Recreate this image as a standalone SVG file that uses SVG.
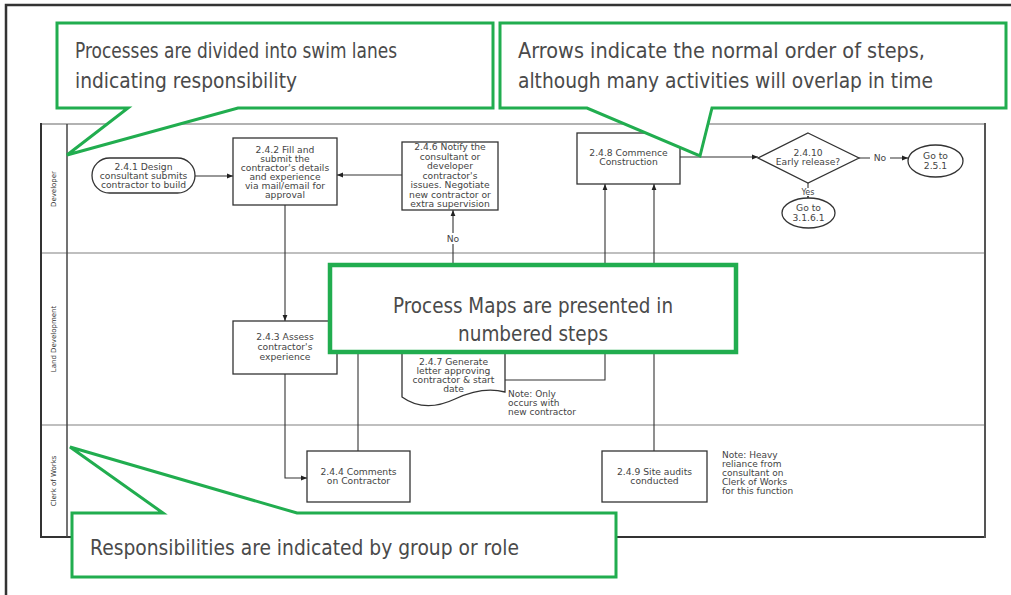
<svg xmlns="http://www.w3.org/2000/svg" width="1011" height="595" viewBox="0 0 1011 595">
  <defs>
    <marker id="arrow" viewBox="0 0 10 10" refX="10" refY="5" markerWidth="6" markerHeight="6" markerUnits="userSpaceOnUse" orient="auto">
      <path d="M0,1 L10,5 L0,9 Z" fill="#222"/>
    </marker>
    <style>
      .box { fill: #fff; stroke: #333; stroke-width: 1.3; }
      .lbl { font-family: "DejaVu Sans", "Liberation Sans", sans-serif; font-size: 9.2px; fill: #444; text-anchor: middle; }
      .note { font-family: "DejaVu Sans", "Liberation Sans", sans-serif; font-size: 9px; fill: #444; }
      .lane { font-family: "DejaVu Sans", "Liberation Sans", sans-serif; font-size: 7px; fill: #333; text-anchor: middle; }
      .conn { fill: none; stroke: #333; stroke-width: 1.1; }
      .call { fill: #fff; stroke: #21ad4f; stroke-width: 3; stroke-linejoin: miter; }
      .ctext { font-family: "DejaVu Sans", "Liberation Sans", sans-serif; font-size: 21px; fill: #4a4a4a; }
    </style>
  </defs>

  <rect width="1011" height="595" fill="#fff"/>
  <!-- page frame -->
  <path d="M6,595 V5 H1011" fill="none" stroke="#333" stroke-width="2.5"/>

  <!-- swim lane frame -->
  <g id="lanes">
    <line x1="41" y1="124" x2="985" y2="124" stroke="#999" stroke-width="1.5"/>
    <line x1="41" y1="253" x2="985" y2="253" stroke="#aaa" stroke-width="1.5"/>
    <line x1="41" y1="425" x2="985" y2="425" stroke="#aaa" stroke-width="1.5"/>
    <line x1="41" y1="537" x2="985" y2="537" stroke="#333" stroke-width="2"/>
    <line x1="41" y1="123" x2="41" y2="538" stroke="#333" stroke-width="2"/>
    <line x1="67" y1="124" x2="67" y2="537" stroke="#444" stroke-width="1.5"/>
    <line x1="985" y1="123" x2="985" y2="538" stroke="#555" stroke-width="2"/>
    <text class="lane" transform="translate(56,189) rotate(-90)">Developer</text>
    <text class="lane" transform="translate(56,339) rotate(-90)">Land Development</text>
    <text class="lane" transform="translate(56,481) rotate(-90)">Clerk of Works</text>
  </g>

  <!-- connectors -->
  <g id="connectors">
    <path class="conn" d="M195,176 H233" marker-end="url(#arrow)"/>
    <path class="conn" d="M402,175 H337" marker-end="url(#arrow)"/>
    <path class="conn" d="M453,280 V210" marker-end="url(#arrow)"/>
    <path class="conn" d="M285,205 V321" marker-end="url(#arrow)"/>
    <path class="conn" d="M285,374 V478 H307" marker-end="url(#arrow)"/>
    <path class="conn" d="M358,300 V451"/>
    <path class="conn" d="M505,380 H605 V184" marker-end="url(#arrow)"/>
    <path class="conn" d="M654,451 V184" marker-end="url(#arrow)"/>
    <path class="conn" d="M680,157 H758" marker-end="url(#arrow)"/>
    <path class="conn" d="M859,158 H908" marker-end="url(#arrow)"/>
    <path class="conn" d="M808,183 V198" marker-end="url(#arrow)"/>
    <rect x="444" y="233" width="18" height="11" fill="#fff"/>
    <text class="lbl" x="453" y="242">No</text>
    <rect x="870" y="153" width="20" height="10" fill="#fff"/>
    <text class="lbl" x="880" y="161">No</text>
    <rect x="798" y="188" width="20" height="8" fill="#fff"/>
    <text class="lbl" x="808" y="195" style="font-size:8px">Yes</text>
  </g>

  <g id="n241">
    <rect class="box" x="92" y="158" width="103" height="35" rx="17.5"/>
    <text class="lbl" x="143.5" y="170">2.4.1 Design</text>
    <text class="lbl" x="143.5" y="179">consultant submits</text>
    <text class="lbl" x="143.5" y="188">contractor to build</text>
  </g>

  <g id="n242">
    <rect class="box" x="233" y="138" width="104" height="67"/>
    <text class="lbl" x="285" y="153">2.4.2 Fill and</text>
    <text class="lbl" x="285" y="162">submit the</text>
    <text class="lbl" x="285" y="171">contractor's details</text>
    <text class="lbl" x="285" y="180">and experience</text>
    <text class="lbl" x="285" y="189">via mail/email for</text>
    <text class="lbl" x="285" y="198">approval</text>
  </g>

  <g id="n246">
    <rect class="box" x="402" y="142" width="96" height="68"/>
    <text class="lbl" x="450" y="150">2.4.6 Notify the</text>
    <text class="lbl" x="450" y="159.5">consultant or</text>
    <text class="lbl" x="450" y="169">developer</text>
    <text class="lbl" x="450" y="178.5">contractor's</text>
    <text class="lbl" x="450" y="188">issues. Negotiate</text>
    <text class="lbl" x="450" y="197.5">new contractor or</text>
    <text class="lbl" x="450" y="207">extra supervision</text>
  </g>

  <g id="n248">
    <rect class="box" x="577" y="133" width="103" height="51"/>
    <text class="lbl" x="628.5" y="156">2.4.8 Commence</text>
    <text class="lbl" x="628.5" y="165">Construction</text>
  </g>

  <g id="n2410">
    <polygon class="box" points="808,133 859,158 808,183 758,158"/>
    <text class="lbl" x="808" y="156">2.4.10</text>
    <text class="lbl" x="808" y="165">Early release?</text>
  </g>

  <g id="go251">
    <ellipse class="box" cx="935.5" cy="161" rx="27.5" ry="16"/>
    <text class="lbl" x="935.5" y="159">Go to</text>
    <text class="lbl" x="935.5" y="169">2.5.1</text>
  </g>

  <g id="go3161">
    <ellipse class="box" cx="808.5" cy="213" rx="26.5" ry="15"/>
    <text class="lbl" x="808.5" y="211">Go to</text>
    <text class="lbl" x="808.5" y="221">3.1.6.1</text>
  </g>

  <g id="n243">
    <rect class="box" x="233" y="321" width="104" height="53"/>
    <text class="lbl" x="285" y="340">2.4.3 Assess</text>
    <text class="lbl" x="285" y="350">contractor's</text>
    <text class="lbl" x="285" y="360">experience</text>
  </g>

  <g id="n247">
    <path class="box" d="M402,290 V397 C420,410 438,407 455,399 C472,391 490,388 505,392 V290 Z"/>
    <text class="lbl" x="453.5" y="365">2.4.7 Generate</text>
    <text class="lbl" x="453.5" y="374">letter approving</text>
    <text class="lbl" x="453.5" y="383">contractor &amp; start</text>
    <text class="lbl" x="453.5" y="392">date</text>
    <text class="note" x="508" y="397">Note: Only</text>
    <text class="note" x="508" y="406">occurs with</text>
    <text class="note" x="508" y="415">new contractor</text>
  </g>

  <g id="n244">
    <rect class="box" x="307" y="451" width="103" height="51"/>
    <text class="lbl" x="358.5" y="475">2.4.4 Comments</text>
    <text class="lbl" x="358.5" y="484">on Contractor</text>
  </g>

  <g id="n249">
    <rect class="box" x="602" y="451" width="105" height="51"/>
    <text class="lbl" x="654.5" y="475">2.4.9 Site audits</text>
    <text class="lbl" x="654.5" y="484">conducted</text>
    <text class="note" x="722" y="458">Note: Heavy</text>
    <text class="note" x="722" y="467">reliance from</text>
    <text class="note" x="722" y="476">consultant on</text>
    <text class="note" x="722" y="485">Clerk of Works</text>
    <text class="note" x="722" y="494">for this function</text>
  </g>

  <!-- callouts -->
  <g id="callout-lanes">
    <path class="call" d="M57,23 H493 V108 H238 L67,155 L128,108 H57 Z"/>
    <text class="ctext" x="75" y="58" textLength="322" lengthAdjust="spacingAndGlyphs">Processes are divided into swim lanes</text>
    <text class="ctext" x="75" y="88" textLength="222" lengthAdjust="spacingAndGlyphs">indicating responsibility</text>
  </g>

  <g id="callout-arrows">
    <path class="call" d="M500,23 H1006 V108 H712 L700,156 L587,108 H500 Z"/>
    <text class="ctext" x="518" y="58" textLength="407" lengthAdjust="spacingAndGlyphs">Arrows indicate the normal order of steps,</text>
    <text class="ctext" x="518" y="88" textLength="415" lengthAdjust="spacingAndGlyphs">although many activities will overlap in time</text>
  </g>

  <g id="callout-steps">
    <rect x="330" y="265" width="406" height="87" fill="#fff" stroke="#21ad4f" stroke-width="4.5"/>
    <text class="ctext" x="393" y="313" textLength="280" lengthAdjust="spacingAndGlyphs">Process Maps are presented in</text>
    <text class="ctext" x="458" y="341" textLength="150" lengthAdjust="spacingAndGlyphs">numbered steps</text>
  </g>

  <g id="callout-roles">
    <path class="call" d="M72,513 H163 L70,447 L297,513 H616 V577 H72 Z"/>
    <text class="ctext" x="90" y="555" textLength="429" lengthAdjust="spacingAndGlyphs">Responsibilities are indicated by group or role</text>
  </g>
</svg>
